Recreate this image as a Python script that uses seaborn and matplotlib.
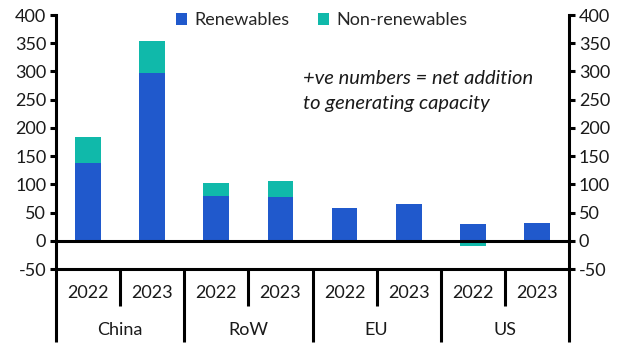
import matplotlib
matplotlib.use("Agg")
import matplotlib.pyplot as plt
import matplotlib.transforms as mtransforms
from matplotlib.patches import Patch
import seaborn as sns
import pandas as pd
import numpy as np

regions = ["China", "China", "RoW", "RoW", "EU", "EU", "US", "US"]
years = ["2022", "2023", "2022", "2023", "2022", "2023", "2022", "2023"]
renewables = [138, 298, 79, 78, 58, 65, 30, 31]
non_renewables = [46, 56, 23, 28, -4, -1, -9, -4]
group_names = ["China", "RoW", "EU", "US"]

BLUE = "#2059CC"
TEAL = "#10B9AA"
FONT = "Lato"
FS = 13

sns.set_theme(style="white")
plt.rcParams["font.family"] = [FONT, "DejaVu Sans"]
plt.rcParams["axes.unicode_minus"] = False

keys = [f"{r} {y}" for r, y in zip(regions, years)]
df = pd.DataFrame({
    "key": keys,
    "renew": renewables,
    "non": non_renewables,
})
# outer layer: stacked total for positive non-renewables, negative from zero
df["outer"] = np.where(df["non"] > 0, df["renew"] + df["non"], df["non"])

fig = plt.figure(figsize=(6.31, 3.55), dpi=100)
ax = fig.add_axes([56 / 631, 1 - 269 / 355, (569 - 56) / 631, (269 - 15) / 355])

sns.barplot(data=df, x="key", y="outer", order=keys, color=TEAL, width=0.4,
            saturation=1, ax=ax, linewidth=0)
sns.barplot(data=df, x="key", y="renew", order=keys, color=BLUE, width=0.4,
            saturation=1, ax=ax, linewidth=0)

ax.set_xlim(-0.5, 7.5)
ax.set_ylim(-50, 400)
ax.set_yticks(range(-50, 401, 50))
ax.set_xlabel("")
ax.set_ylabel("")

for s in ["left", "right", "bottom"]:
    ax.spines[s].set_visible(True)
    ax.spines[s].set_linewidth(2.2)
    ax.spines[s].set_color("black")
ax.spines["top"].set_visible(False)

ax.axhline(0, color="black", linewidth=2.2, zorder=5)

ax.tick_params(axis="y", which="both", left=True, right=True, labelleft=True,
               labelright=True, direction="out", length=4, width=2.2,
               color="black", labelsize=FS, labelcolor="#1a1a1a", pad=3)

# x axis: separators as ticks
ax.set_xticks([0.5, 2.5, 4.5, 6.5])
ax.set_xticks([-0.5, 1.5, 3.5, 5.5, 7.5], minor=True)
ax.set_xticklabels([])
ax.tick_params(axis="x", which="major", bottom=True, direction="out",
               length=26.5, width=2.2, color="black")
ax.tick_params(axis="x", which="minor", bottom=True, direction="out",
               length=52.5, width=2.2, color="black")

trans = mtransforms.blended_transform_factory(ax.transData, ax.transAxes)
for i, y in enumerate(years):
    ax.text(i, -0.094, y, transform=trans, ha="center", va="center",
            fontsize=FS, color="#1a1a1a")
for j, g in enumerate(group_names):
    ax.text(2 * j + 0.5, -0.24, g, transform=trans, ha="center", va="center",
            fontsize=FS, color="#1a1a1a")

handles = [Patch(facecolor=BLUE, edgecolor="none", label="Renewables"),
           Patch(facecolor=TEAL, edgecolor="none", label="Non-renewables")]
ax.legend(handles=handles, loc="upper center", bbox_to_anchor=(0.518, 1.075),
          ncol=2, frameon=False, fontsize=FS, handlelength=0.6,
          handleheight=0.6, handletextpad=0.4, columnspacing=1.6)

fig.text(303 / 631, 1 - 79 / 355, "+ve numbers = net addition", style="italic",
         fontsize=FS + 1.5, ha="left", va="center", color="#1a1a1a")
fig.text(303 / 631, 1 - 103 / 355, "to generating capacity", style="italic",
         fontsize=FS + 1.5, ha="left", va="center", color="#1a1a1a")

fig.savefig("out.png", dpi=100)
